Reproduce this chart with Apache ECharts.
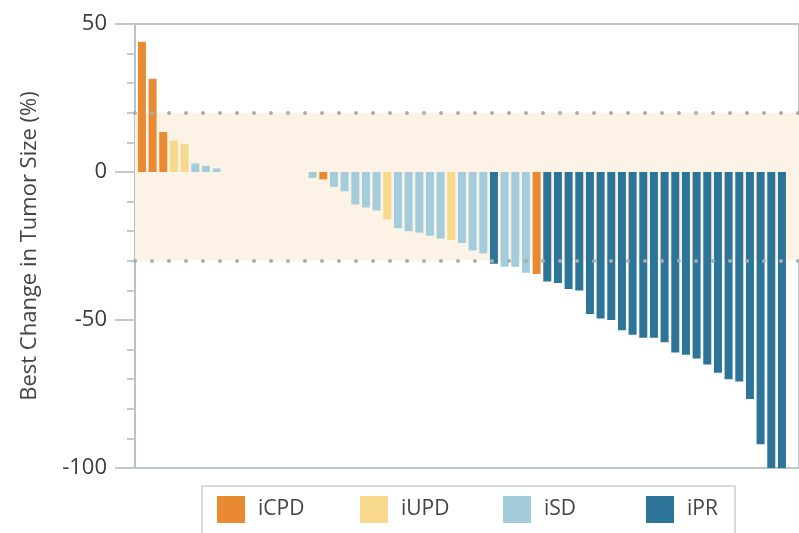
<!DOCTYPE html>
<html>
<head>
<meta charset="utf-8">
<script src="https://cdn.jsdelivr.net/npm/echarts@6/dist/echarts.min.js"></script>
<style>
  html, body { margin: 0; padding: 0; background: #fff; }
  #chart { width: 799px; height: 533px; }
</style>
</head>
<body>
<div id="chart"></div>
<script>
// best change in tumor size, one bar per patient, sorted
var changes = [
    44, 31.5, 13.5, 10.6, 9.5, 2.9, 2.1, 1.2,
    0, 0, 0, 0, 0, 0, 0, 0,
    -2, -2.5, -5, -6.5, -11, -12, -13, -16, -19, -20,
    -20.5, -21.5, -22.5, -23, -24, -26.5, -27.5, -31, -32, -32,
    -34, -34.5, -37, -37.5, -39.5, -40, -48, -49.5, -50, -53.5,
    -55, -56, -56, -57.5, -61, -61.7, -63, -65, -67.8, -70,
    -70.8, -76.7, -92, -100, -100
];
// response group of each bar
var groups = [
    'iCPD', 'iCPD', 'iCPD', 'iUPD', 'iUPD', 'iSD', 'iSD', 'iSD',
    'iSD', 'iSD', 'iSD', 'iSD', 'iSD', 'iSD', 'iSD', 'iSD',
    'iSD', 'iCPD', 'iSD', 'iSD', 'iSD', 'iSD', 'iSD', 'iUPD', 'iSD', 'iSD',
    'iSD', 'iSD', 'iSD', 'iUPD', 'iSD', 'iSD', 'iSD', 'iPR', 'iSD', 'iSD',
    'iSD', 'iCPD', 'iPR', 'iPR', 'iPR', 'iPR', 'iPR', 'iPR', 'iPR', 'iPR',
    'iPR', 'iPR', 'iPR', 'iPR', 'iPR', 'iPR', 'iPR', 'iPR', 'iPR', 'iPR',
    'iPR', 'iPR', 'iPR', 'iPR', 'iPR'
];
var groupNames = ['iCPD', 'iUPD', 'iSD', 'iPR'];
var groupColors = ['#e98a33', '#f8d88c', '#a3cddc', '#2d7598'];
var yTicks = [-100, -50, 0, 50];
var bandLimits = [20, -30]; // shaded band with dotted borders

var myChart = echarts.init(document.getElementById('chart'));

var series = [];
// background band + dotted lines, behind the bars
series.push({
    type: 'line',
    z: 1,
    silent: true,
    symbol: 'none',
    lineStyle: { width: 0 },
    data: [[0, 0]],
    markArea: {
        silent: true,
        itemStyle: { color: '#fcf3e6' },
        data: [[{ yAxis: bandLimits[0] }, { yAxis: bandLimits[1] }]]
    },
    markLine: {
        silent: true,
        symbol: 'none',
        label: { show: false },
        lineStyle: { color: '#a9adae', width: 4, type: [0, 17], cap: 'round' },
        data: [{ yAxis: bandLimits[0] }, { yAxis: bandLimits[1] }]
    }
});
groupNames.forEach(function(name, k) {
    series.push({
        name: name,
        type: 'bar',
        z: 3,
        barWidth: 8,
        barGap: '-100%',
        itemStyle: { color: groupColors[k] },
        data: changes.map(function(v, i) {
            return [i, groups[i] === name ? v : '-'];
        })
    });
});

// one legend per item so the spacing stays even
var legends = groupNames.map(function(name, k) {
    return {
        data: [name],
        left: 217 + k * 143,
        top: 496,
        padding: 0,
        icon: 'rect',
        itemWidth: 28,
        itemHeight: 27,
        textStyle: {
            fontFamily: 'Open Sans',
            fontSize: 21,
            color: '#444',
            padding: [0, 0, 0, 8]
        }
    };
});

var option = {
    animation: false,
    grid: {
        left: 135, right: -2, top: 24, bottom: 65,
        show: true,
        borderColor: '#bcc5c9',
        borderWidth: 2
    },
    legend: legends,
    graphic: [{
        type: 'rect',
        shape: { x: 202, y: 486, width: 533, height: 60 },
        style: { fill: 'none', stroke: '#c9cfd2', lineWidth: 1.5 },
        silent: true
    }],
    xAxis: {
        type: 'value',
        min: -0.65,
        max: 61.6,
        axisLine: { onZero: true, lineStyle: { color: '#a9b4b9', width: 2 } },
        axisTick: { show: false },
        axisLabel: { show: false },
        splitLine: { show: false }
    },
    yAxis: {
        type: 'value',
        min: yTicks[0],
        max: yTicks[yTicks.length - 1],
        interval: 50,
        name: 'Best Change in Tumor Size (%)',
        nameLocation: 'middle',
        nameRotate: 90,
        nameGap: 94,
        nameTextStyle: { fontFamily: 'Open Sans', fontSize: 22, color: '#444' },
        axisLine: { show: true, onZero: false, lineStyle: { color: '#b7c2c7', width: 2 } },
        axisTick: { show: true, length: 20, lineStyle: { color: '#c3cacd', width: 2 } },
        minorTick: { show: true, splitNumber: 5, length: 8, lineStyle: { color: '#c3cacd', width: 2 } },
        axisLabel: { fontFamily: 'Open Sans', fontSize: 22, color: '#3a3a3a', margin: 28 },
        splitLine: { show: false }
    },
    series: series
};
myChart.setOption(option);
</script>
</body>
</html>
